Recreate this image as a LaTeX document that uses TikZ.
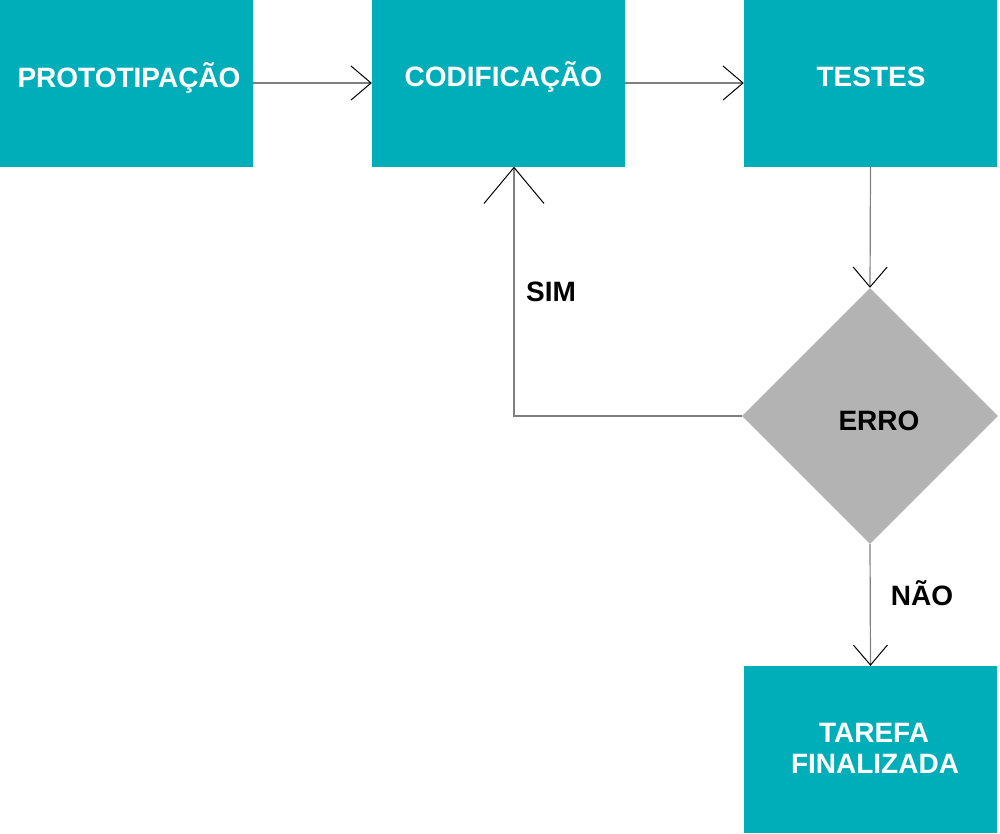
\documentclass[tikz,border=0pt]{standalone}
\usepackage{fontspec}
\setmainfont{Liberation Sans}
\usetikzlibrary{arrows.meta,shapes.geometric}
\definecolor{teal1}{HTML}{00AEB9}
\definecolor{grayd}{HTML}{B3B3B3}
\definecolor{linec}{HTML}{7F7F7F}
\tikzset{
  box/.style={draw=none,fill=teal1,rectangle,inner sep=0pt,minimum width=253pt,minimum height=167pt},
  dia/.style={draw=none,fill=grayd,diamond,inner sep=0pt,minimum width=256pt,minimum height=256pt},
  wtxt/.style={text=white,font=\fontsize{28}{31}\selectfont\bfseries,anchor=base,inner sep=0pt,align=center},
  btxt/.style={text=black,font=\fontsize{28}{31}\selectfont\bfseries,anchor=base,inner sep=0pt},
  conn/.style={draw=linec,line width=1.2pt,-{Straight Barb[length=20pt,width=34pt,line width=1pt,color=black]}},
  bigconn/.style={draw=linec,line width=1.2pt,-{Straight Barb[length=36pt,width=60pt,line width=1pt,color=black]}}
}
\begin{document}
\begin{tikzpicture}[x=1pt,y=-1pt]
\useasboundingbox (0,0) rectangle (1000,833);
\node[box] (p) at (126,83) {};
\node[box] (c) at (498.5,83) {};
\node[box] (t) at (870.5,83) {};
\node[dia] (e) at (870,416) {};
\node[box] (f) at (870.5,749.5) {};
\node[wtxt] (pt) at (129,87) {PROTOTIPAÇÃO};
\node[wtxt] (ct) at (503.5,86) {CODIFICAÇÃO};
\node[wtxt] (tt) at (871,86) {TESTES};
\node[btxt] (et) at (879,430) {ERRO};
\node[wtxt] (ft1) at (874,742) {TAREFA};
\node[wtxt] (ft2) at (875,773) {FINALIZADA};
\node[btxt] (sim) at (551,301) {SIM};
\node[btxt] (nao) at (922,605) {NÃO};
\coordinate (sx) at (514,416);
\draw[conn] (p.east) -- (c.west);
\draw[conn] (c.east) -- (t.west);
\draw[conn] (t.south) -- (e.north);
\draw[conn] (e.south) -- (f.north);
\draw[bigconn] (e.west) -- (sx) -- (sx |- c.south);
\end{tikzpicture}
\end{document}
